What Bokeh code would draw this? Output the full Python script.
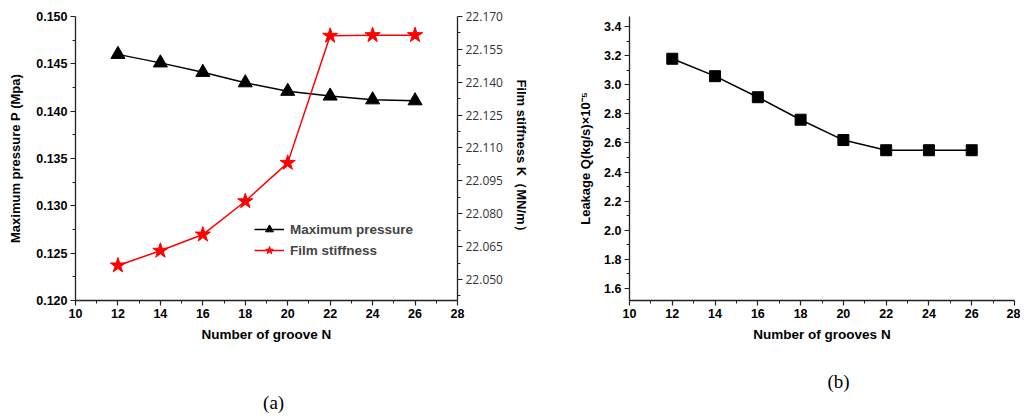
from bokeh.plotting import figure
from bokeh.layouts import row, column
from bokeh.models import (Range1d, LinearAxis, FixedTicker, PrintfTickFormatter,
                          Legend, LegendItem)
from bokeh.embed import file_html
from bokeh.resources import INLINE

# ---- data ----
grooves = [12, 14, 16, 18, 20, 22, 24, 26]
max_pressure = [0.1460, 0.1451, 0.1441, 0.1430, 0.1421, 0.1416, 0.1412, 0.1411]
film_stiffness = [22.0564, 22.0631, 22.0705, 22.0857, 22.1032, 22.1612, 22.1615, 22.1615]
leakage = [3.18, 3.06, 2.915, 2.76, 2.62, 2.55, 2.55, 2.55]

x_ticks = [10, 12, 14, 16, 18, 20, 22, 24, 26, 28]
x_minor = [11, 13, 15, 17, 19, 21, 23, 25, 27]
p_ticks = [0.120, 0.125, 0.130, 0.135, 0.140, 0.145, 0.150]
p_minor = [0.1225, 0.1275, 0.1325, 0.1375, 0.1425, 0.1475]
k_ticks = [22.050, 22.065, 22.080, 22.095, 22.110, 22.125, 22.140, 22.155, 22.170]
k_minor = [22.0425, 22.0575, 22.0725, 22.0875, 22.1025, 22.1175, 22.1325, 22.1475, 22.1625]
q_ticks = [1.6, 1.8, 2.0, 2.2, 2.4, 2.6, 2.8, 3.0, 3.2, 3.4]
q_minor = [1.5, 1.7, 1.9, 2.1, 2.3, 2.5, 2.7, 2.9, 3.1, 3.3, 3.5]

FONT = "Liberation Sans"
NBSP = "\u00a0"


def style_axis(ax, ticks, minor, fmt, bold=True, size="12.5px", color="black",
               font=FONT, standoff=3):
    ax.ticker = FixedTicker(ticks=ticks, minor_ticks=minor)
    ax.formatter = PrintfTickFormatter(format=fmt)
    ax.axis_line_color = "#222222"
    ax.axis_line_width = 1.3
    ax.major_tick_line_color = "#222222"
    ax.minor_tick_line_color = "#222222"
    ax.major_tick_line_width = 1.2
    ax.major_tick_out = 5
    ax.major_tick_in = 0
    ax.minor_tick_out = 3
    ax.minor_tick_in = 0
    ax.major_label_text_font = font
    ax.major_label_text_font_size = size
    ax.major_label_text_font_style = "bold" if bold else "normal"
    ax.major_label_text_color = color
    ax.major_label_standoff = standoff
    ax.axis_label_text_font = FONT
    ax.axis_label_text_font_style = "bold"
    ax.axis_label_text_font_size = "13px"
    ax.axis_label_text_color = "black"


def caption_axis(text, standoff):
    ax = LinearAxis(axis_label=text)
    ax.ticker = FixedTicker(ticks=[], minor_ticks=[])
    ax.axis_line_color = None
    ax.major_tick_line_color = None
    ax.minor_tick_line_color = None
    ax.major_tick_out = 0
    ax.minor_tick_out = 0
    ax.major_label_text_alpha = 0
    ax.axis_label_text_font = "Liberation Serif"
    ax.axis_label_text_font_style = "normal"
    ax.axis_label_text_font_size = "19px"
    ax.axis_label_text_color = "black"
    ax.axis_label_standoff = standoff
    return ax


# ---- (a) ----
p1 = figure(width=553, height=416, x_range=Range1d(10, 28), y_range=Range1d(0.120, 0.150),
            output_backend="svg", toolbar_location=None, title_location=None,
            min_border_left=75, min_border_right=96, min_border_top=16, min_border_bottom=116)
p1.extra_y_ranges = {"k": Range1d(22.0404, 22.170)}
p1.xgrid.visible = False
p1.ygrid.visible = False
p1.outline_line_color = None

style_axis(p1.xaxis[0], x_ticks, x_minor, "%d")
p1.xaxis[0].axis_label = "Number of groove N"
p1.xaxis[0].axis_label_text_font_size = "13.5px"
p1.xaxis[0].axis_label_standoff = 6
style_axis(p1.yaxis[0], p_ticks, p_minor, "%.3f")
p1.yaxis[0].axis_label = "Maximum pressure P (Mpa)"
p1.yaxis[0].axis_label_standoff = 10

kax = LinearAxis(y_range_name="k")
p1.add_layout(kax, "right")
style_axis(kax, k_ticks, k_minor, "%.3f", bold=False, size="12px", color="#333333",
           font="Open Sans", standoff=3)
kax.axis_label = "Film stiffness K（MN/m）"
kax.axis_label_standoff = 8

l1 = p1.line(grooves, max_pressure, line_color="black", line_width=1.5)
m1 = p1.scatter(grooves, max_pressure, marker="triangle", size=14,
                fill_color="black", line_color="black")
l2 = p1.line(grooves, film_stiffness, line_color="red", line_width=1.5, y_range_name="k")
m2 = p1.scatter(grooves, film_stiffness, marker="star", size=16,
                fill_color="red", line_color="red", y_range_name="k")

legend = Legend(items=[LegendItem(label="Maximum pressure", renderers=[l1, m1]),
                       LegendItem(label="Film stiffness", renderers=[l2, m2])],
                location=(179, 40), border_line_color=None, background_fill_alpha=0,
                padding=0, margin=0, spacing=1, glyph_width=30, glyph_height=20,
                label_standoff=6, label_text_font=FONT, label_text_font_size="13.5px",
                label_text_font_style="bold")
p1.add_layout(legend)
p1.add_layout(caption_axis(NBSP * 3 + "(a)", 47), "below")

# ---- (b) ----
p2 = figure(width=467, height=416, x_range=Range1d(10, 28), y_range=Range1d(1.515, 3.471),
            output_backend="svg", toolbar_location=None, title_location=None,
            min_border_left=76, min_border_right=6, min_border_top=16, min_border_bottom=116)
p2.xgrid.visible = False
p2.ygrid.visible = False
p2.outline_line_color = None

style_axis(p2.xaxis[0], x_ticks, x_minor, "%d")
p2.xaxis[0].axis_label = "Number of grooves N"
p2.xaxis[0].axis_label_text_font_size = "13.5px"
p2.xaxis[0].axis_label_standoff = 6
style_axis(p2.yaxis[0], q_ticks, q_minor, "%.1f")
p2.yaxis[0].axis_label = "Leakage Q(kg/s)×10⁻⁵"
p2.yaxis[0].axis_label_standoff = 8

p2.line(grooves, leakage, line_color="black", line_width=1.5)
p2.scatter(grooves, leakage, marker="square", size=11, fill_color="black", line_color="black")
p2.add_layout(caption_axis(NBSP * 7 + "(b)", 26), "below")

layout = row(column(p1), column(p2))
open("out.html", "w").write(file_html(layout, INLINE))
